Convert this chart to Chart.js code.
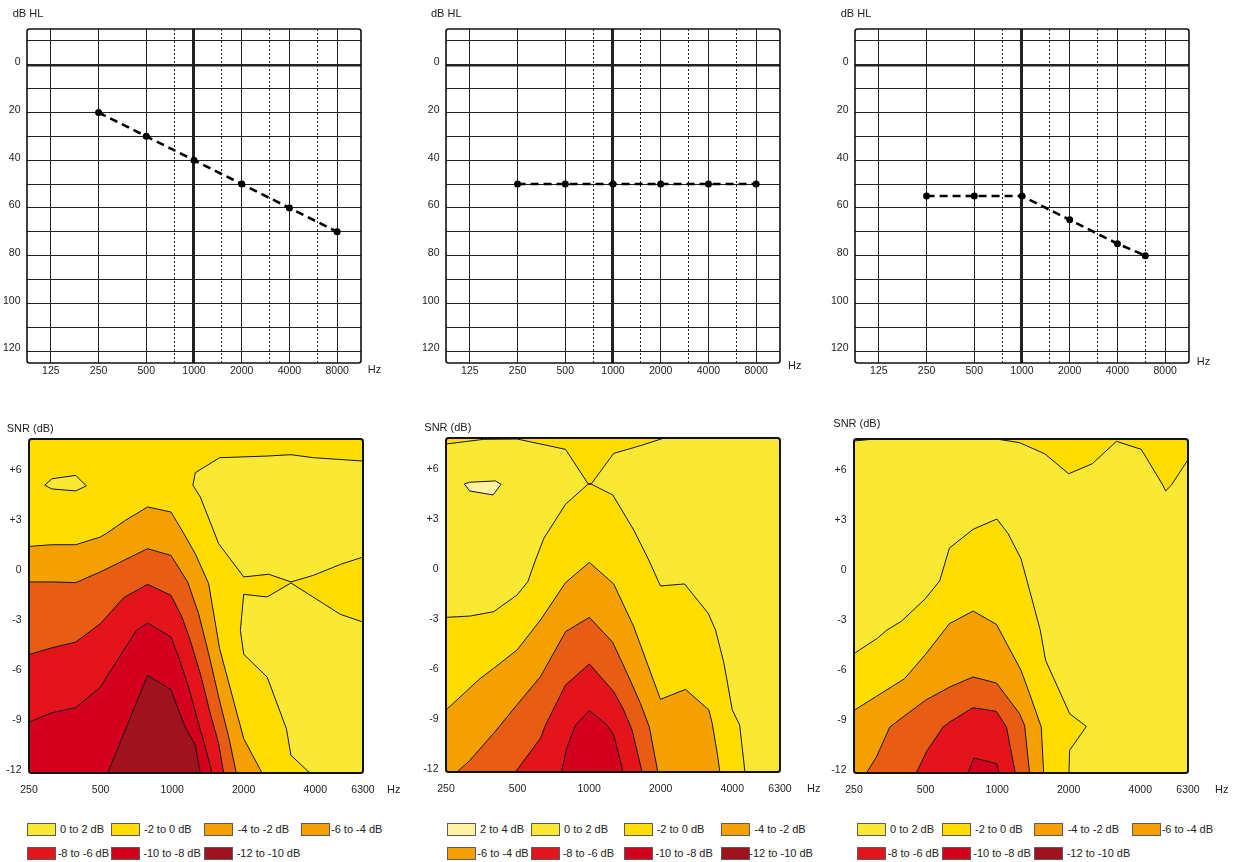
<!DOCTYPE html>
<html>
<head>
<meta charset="utf-8">
<title>Audiograms and SNR maps</title>
<script src="https://cdn.jsdelivr.net/npm/chart.js@4.4.1/dist/chart.umd.min.js"></script>
<style>
  body { margin: 0; background: #fff; width: 1235px; height: 862px; overflow: hidden; position: relative;
         font-family: "Liberation Sans", Arial, sans-serif; }
  canvas { position: absolute; }
  .sw { position: absolute; width: 29px; height: 13px; box-sizing: border-box; border: 1px solid #5c5c5c; }
  .lt { position: absolute; font-size: 11px; line-height: 13px; color: #222; white-space: nowrap; }
</style>
</head>
<body>
<script>
// ---- audiograms (dB HL per frequency) ----
const audHz = [250, 500, 1000, 2000, 4000, 8000];
const audHz3 = [250, 500, 1000, 2000, 4000, 6000];
const audLeft = [20, 30, 40, 50, 60, 70];
const audMid = [50, 50, 50, 50, 50, 50];
const audRight = [55, 55, 55, 65, 75, 80];
const audGridHz = [125, 250, 500, 750, 1000, 1500, 2000, 3000, 4000, 6000, 8000];
const audHalfHz = [750, 1500, 3000, 6000];
const audLabelHz = [125, 250, 500, 1000, 2000, 4000, 8000];
const audGridDb = [-10, 0, 10, 20, 30, 40, 50, 60, 70, 80, 90, 100, 110, 120];
const audLabelDb = [0, 20, 40, 60, 80, 100, 120];

// ---- SNR maps: x = third-octave band index (0 = 250 Hz), y = SNR in dB ----
const bandHz = [250, 315, 400, 500, 630, 800, 1000, 1250, 1600, 2000, 2500, 3150, 4000, 5000, 6300];
const mapLabelHz = [250, 500, 1000, 2000, 4000, 6300];
const snrTicks = [-12, -9, -6, -3, 0, 3, 6];
const snrLabels = ['-12', '-9', '-6', '-3', '0', '+3', '+6'];

// left map
const p1Light = [[14,6.68],[11.93,6.88],[10.98,7.06],[9.98,6.98],[7.99,6.88],[6.97,5.98],[6.87,5.23],[7.18,4.53],
  [7.95,1.73],[9.0,-0.26],[10.05,-0.10],[10.98,-0.56],[11.93,-0.16],[13.05,0.49],[14,0.93]];
const p1LightLow = [[10.98,-0.62],[13.05,-2.50],[14,-2.96],[14,-12],[11.77,-12],[10.98,-10.94],[10.79,-9.35],
  [9.98,-6.25],[9.0,-4.89],[8.86,-3.46],[9.0,-1.30],[9.98,-1.46]];
const p1Island = [[0.66,5.23],[0.96,5.62],[1.96,5.82],[2.40,5.19],[1.96,4.89],[0.96,5.01]];
const p1Below2 = [[0,1.57],[0.96,1.67],[1.96,1.67],[2.99,2.13],[3.27,2.37],[4.04,3.13],[4.97,3.93],[5.95,3.63],
  [6.41,2.53],[6.97,1.13],[7.53,-0.66],[7.99,-4.55],[9.0,-9.94],[9.77,-12],[0,-12]];
const p1Below4 = [[0,-0.56],[0.96,-0.56],[1.96,-0.60],[2.99,0.04],[3.97,0.73],[4.97,1.43],[5.95,1.03],[6.65,-0.56],
  [7.11,-2.46],[7.53,-4.85],[7.95,-7.45],[8.37,-9.84],[8.69,-12],[0,-12]];
const p1Below6 = [[0,-4.91],[0.96,-4.50],[1.96,-4.16],[2.99,-3.06],[3.97,-1.50],[4.97,-0.70],[5.95,-1.36],[6.41,-2.66],
  [6.76,-4.06],[7.18,-6.05],[7.60,-8.45],[7.95,-10.24],[8.16,-12],[0,-12]];
const p1Below8 = [[0,-8.95],[0.96,-8.39],[1.96,-8.09],[2.99,-6.85],[4.50,-3.46],[4.97,-3.02],[5.95,-3.86],[6.27,-5.05],
  [6.69,-6.85],[7.11,-9.05],[7.39,-10.44],[7.67,-12],[0,-12]];
const p1Below10 = [[3.30,-12],[4.97,-6.15],[5.95,-7.01],[6.27,-8.25],[6.55,-9.25],[6.97,-10.34],[7.18,-12]];

// middle map
const p2TopGold = [[0,8],[0,7.64],[1.58,7.92],[2.98,7.94],[5.01,7.32],[5.95,5.27],[6.10,5.27],[7.03,7.08],[8.15,7.54],
  [9.06,7.96],[9.06,8]];
const p2Gold = [[0,-2.74],[1.02,-2.66],[2.0,-2.40],[2.98,-1.40],[3.43,-0.60],[3.75,0.69],[4.10,1.99],[5.01,4.03],
  [5.95,5.23],[6.10,5.23],[6.99,4.59],[7.87,2.49],[8.50,0.69],[8.99,-0.86],[10.0,-0.74],[10.99,-2.50],[11.30,-3.50],
  [11.65,-5.49],[12.0,-8.29],[12.31,-9.19],[12.53,-12],[0,-12]];
const p2Pale = [[0.77,5.25],[0.99,4.83],[1.97,4.59],[2.31,5.23],[2.07,5.43],[0.99,5.35]];
const p2Below2 = [[0,-8.29],[1.44,-6.39],[2.0,-5.79],[2.98,-4.69],[3.96,-2.90],[5.01,-0.66],[6.01,0.55],[7.03,-0.74],
  [7.87,-3.30],[8.99,-7.65],[10.04,-7.05],[11.02,-8.29],[11.16,-9.09],[11.37,-10.88],[11.48,-12],[0,-12]];
const p2Below4 = [[0.46,-12],[0.99,-11.32],[2.0,-9.68],[2.99,-7.95],[3.96,-6.29],[5.01,-3.60],[6.01,-2.74],[6.99,-4.24],
  [7.59,-6.09],[8.15,-7.89],[8.52,-9.29],[8.88,-12]];
const p2Below6 = [[2.91,-12],[3.96,-9.98],[4.17,-9.19],[5.01,-6.79],[6.01,-5.53],[7.03,-7.19],[7.45,-8.29],[7.80,-9.49],
  [8.22,-12]];
const p2Below8 = [[4.84,-12],[5.08,-10.48],[5.43,-9.19],[6.01,-8.33],[6.71,-9.13],[7.03,-9.78],[7.43,-12]];

// right map
const p3TopGold = [[5.97,8],[6.94,7.78],[7.99,7.12],[9.0,5.92],[9.99,6.52],[11.0,7.86],[12.04,7.38],[12.95,5.23],
  [13.06,4.89],[13.30,5.23],[14,6.76],[14,8]];
const p3Corner = [[0,8],[0,7.88],[0.73,7.98],[0.73,8]];
const p3Gold = [[0,-4.85],[0.99,-3.92],[1.36,-3.46],[2.0,-2.90],[2.99,-1.56],[3.59,-0.50],[4.0,1.47],[4.99,2.59],
  [5.99,3.21],[6.46,2.33],[7.0,0.83],[7.36,-1.06],[7.81,-3.46],[8.03,-5.25],[9.04,-8.45],[9.74,-9.21],[9.04,-10.64],
  [9.01,-12],[0,-12]];
const p3Below2 = [[0,-8.25],[0.94,-7.41],[2.12,-6.35],[2.99,-4.91],[4.0,-3.06],[4.99,-2.30],[5.97,-3.10],[7.0,-5.85],
  [7.36,-7.25],[7.85,-9.25],[7.95,-12],[0,-12]];
const p3Below4 = [[0.52,-12],[0.94,-11.04],[1.50,-9.25],[2.05,-8.65],[2.99,-7.65],[4.01,-6.85],[4.99,-6.25],[5.97,-6.61],
  [6.94,-8.45],[7.15,-9.15],[7.36,-12]];
const p3Below6 = [[2.61,-12],[3.03,-10.74],[3.73,-9.25],[4.01,-8.95],[4.99,-8.09],[5.97,-8.31],[6.39,-9.25],[6.76,-12]];
const p3Below8 = [[4.78,-12],[5.02,-11.10],[5.99,-11.44],[6.08,-12]];

// legends
const legend1 = ['0 to 2 dB', '-2 to 0 dB', '-4 to -2 dB', '-6 to -4 dB', '-8 to -6 dB', '-10 to -8 dB', '-12 to -10 dB'];
const legend2 = ['2 to 4 dB', '0 to 2 dB', '-2 to 0 dB', '-4 to -2 dB', '-6 to -4 dB', '-8 to -6 dB', '-10 to -8 dB', '-12 to -10 dB'];
const legend3 = ['0 to 2 dB', '-2 to 0 dB', '-4 to -2 dB', '-6 to -4 dB', '-8 to -6 dB', '-10 to -8 dB', '-12 to -10 dB'];

// ---- styling / layout ----
const PALE = '#FEF3A2', LIGHT = '#F9E834', GOLD = '#FFDD00', ORANGE = '#F4A000', DORANGE = '#E85C13',
      RED = '#E3141C', CRIMSON = '#D3001E', DRED = '#A0131E';
const INK = '#222';
const FONT = { family: '"Liberation Sans", Arial, sans-serif', size: 10.5 };
const SIZE = 334, PL = 40, PT = 40, PR = 50, PB = 30;

function canvasAt(left, top) {
  const c = document.createElement('canvas');
  c.width = PL + SIZE + PR;
  c.height = PT + SIZE + PB;
  c.style.left = (left - PL) + 'px';
  c.style.top = (top - PT) + 'px';
  document.body.appendChild(c);
  return c;
}

// area background, rounded frame and axis captions
const decor = {
  id: 'decor',
  beforeDatasetsDraw(chart, args, o) {
    if (!o.bg) return;
    const a = chart.chartArea, ctx = chart.ctx;
    ctx.save();
    ctx.fillStyle = o.bg;
    ctx.fillRect(a.left, a.top, a.width, a.height);
    ctx.restore();
  },
  afterDraw(chart, args, o) {
    const a = chart.chartArea, ctx = chart.ctx;
    ctx.save();
    ctx.lineWidth = o.frame;
    ctx.strokeStyle = '#111';
    ctx.beginPath();
    ctx.roundRect(a.left, a.top, a.width, a.height, 2.5);
    ctx.stroke();
    ctx.font = '11px "Liberation Sans", Arial, sans-serif';
    ctx.fillStyle = INK;
    ctx.textBaseline = 'middle';
    ctx.fillText(o.title, a.left + o.titleAt[0], a.top + o.titleAt[1]);
    ctx.fillText('Hz', a.right + o.hzAt[0], a.bottom + o.hzAt[1]);
    ctx.restore();
  }
};
Chart.register(decor);

function audiogram(left, hz, db, titleAt, hzAt) {
  new Chart(canvasAt(left, 29), {
    type: 'line',
    data: {
      datasets: [{
        data: hz.map((f, i) => ({ x: f, y: db[i] })),
        borderColor: '#000', borderWidth: 2.6, borderDash: [8, 5],
        pointRadius: 3.5, pointBackgroundColor: '#000', pointBorderWidth: 0,
        tension: 0, fill: false
      }]
    },
    options: {
      responsive: false, animation: false, events: [],
      layout: { padding: { left: 0, top: PT, right: PR, bottom: 0 } },
      plugins: {
        legend: { display: false }, tooltip: { enabled: false },
        decor: { frame: 1.6, title: 'dB HL', titleAt, hzAt }
      },
      scales: {
        x: {
          type: 'logarithmic', bounds: 'data', min: 125 / Math.SQRT2, max: 8000 * Math.SQRT2,
          afterBuildTicks: s => { s.ticks = audGridHz.map(v => ({ value: v })); },
          afterFit: s => { s.height = PB; },
          ticks: { autoSkip: false, maxRotation: 0, padding: 1.5, font: FONT, color: INK,
                   callback: v => audLabelHz.includes(v) ? String(v) : '' },
          grid: { color: '#222', drawTicks: false,
                  lineWidth: c => c.tick && c.tick.value === 1000 ? 3 : 1 },
          border: { display: false,
                    dash: c => c.tick && audHalfHz.includes(c.tick.value) ? [2, 2] : [] }
        },
        y: {
          type: 'linear', bounds: 'data', reverse: true, min: -15, max: 125,
          afterBuildTicks: s => { s.ticks = audGridDb.map(v => ({ value: v })); },
          afterFit: s => { s.width = PL; },
          ticks: { autoSkip: false, padding: 6.5, labelOffset: -2.5, font: FONT, color: INK,
                   callback: v => audLabelDb.includes(v) ? String(v) : '' },
          grid: { color: '#222', drawTicks: false,
                  lineWidth: c => c.tick && c.tick.value === 0 ? 2.5 : 1 },
          border: { display: false }
        }
      }
    }
  });
}

function snrMap(left, top, bg, layers, titleAt, hzAt) {
  const n = layers.length;
  new Chart(canvasAt(left, top), {
    type: 'line',
    data: {
      datasets: layers.map(([pts, color], i) => ({
        data: pts.concat([pts[0]]).map(([x, y]) => ({ x, y })),
        fill: 'shape', backgroundColor: color, borderColor: '#141414', borderWidth: 1,
        borderJoinStyle: 'round', pointRadius: 0, tension: 0, order: n - i
      }))
    },
    options: {
      responsive: false, animation: false, events: [],
      layout: { padding: { left: 0, top: PT, right: PR, bottom: 0 } },
      plugins: {
        legend: { display: false }, tooltip: { enabled: false },
        decor: { bg, frame: 2, title: 'SNR (dB)', titleAt, hzAt }
      },
      scales: {
        x: {
          type: 'linear', bounds: 'data', min: 0, max: bandHz.length - 1,
          afterBuildTicks: s => { s.ticks = mapLabelHz.map(f => ({ value: bandHz.indexOf(f) })); },
          afterFit: s => { s.height = PB; },
          ticks: { autoSkip: false, maxRotation: 0, padding: 11, font: FONT, color: INK,
                   callback: v => String(bandHz[v]) },
          grid: { display: false, drawTicks: false }, border: { display: false }
        },
        y: {
          type: 'linear', bounds: 'data', min: -12, max: 8,
          afterBuildTicks: s => { s.ticks = snrTicks.map(v => ({ value: v })); },
          afterFit: s => { s.width = PL; },
          ticks: { autoSkip: false, padding: 7.5, labelOffset: -2.5, font: FONT, color: INK,
                   callback: v => snrLabels[snrTicks.indexOf(v)] },
          grid: { display: false, drawTicks: false }, border: { display: false }
        }
      }
    }
  });
}

function legend(labels, colors, swX, textRow1, textRow2) {
  const rowTop = [822.7, 846.7];
  labels.forEach((t, i) => {
    const r = i < 4 ? 0 : 1, c = i % 4;
    const sw = document.createElement('div');
    sw.className = 'sw';
    sw.style.left = swX[c] + 'px';
    sw.style.top = rowTop[r] + 'px';
    sw.style.background = colors[i];
    document.body.appendChild(sw);
    const tx = document.createElement('div');
    tx.className = 'lt';
    tx.style.left = (r ? textRow2 : textRow1)[c] + 'px';
    tx.style.top = rowTop[r] + 'px';
    tx.textContent = t;
    document.body.appendChild(tx);
  });
}

audiogram(27, audHz, audLeft, [-14.3, -14.7], [6.7, 7]);
audiogram(446, audHz, audMid, [-15, -15], [8, 3]);
audiogram(855, audHz3, audRight, [-14.3, -14.7], [7.7, -1.3]);

snrMap(29, 439, GOLD, [[p1Light, LIGHT], [p1LightLow, LIGHT], [p1Island, LIGHT], [p1Below2, ORANGE],
  [p1Below4, DORANGE], [p1Below6, RED], [p1Below8, CRIMSON], [p1Below10, DRED]], [-22.3, -9.7], [24, 17]);
snrMap(446, 438, LIGHT, [[p2TopGold, GOLD], [p2Gold, GOLD], [p2Pale, PALE], [p2Below2, ORANGE],
  [p2Below4, DORANGE], [p2Below6, RED], [p2Below8, CRIMSON]], [-21.7, -9.7], [27, 17]);
snrMap(854, 439, LIGHT, [[p3TopGold, GOLD], [p3Corner, GOLD], [p3Gold, GOLD], [p3Below2, ORANGE],
  [p3Below4, DORANGE], [p3Below6, RED], [p3Below8, CRIMSON]], [-20.7, -14.7], [27, 17]);

legend(legend1, [LIGHT, GOLD, ORANGE, ORANGE, RED, CRIMSON, DRED],
  [26.7, 111.3, 204.3, 301], [60, 144, 237.7, 331], [57.7, 143.3, 236.7]);
legend(legend2, [PALE, LIGHT, GOLD, ORANGE, ORANGE, RED, CRIMSON, DRED],
  [446.7, 531.3, 624.3, 721], [480, 564, 656.7, 754.3], [477.3, 562.7, 655.3, 749.3]);
legend(legend3, [LIGHT, GOLD, ORANGE, ORANGE, RED, CRIMSON, DRED],
  [857.3, 942, 1034.3, 1131.7], [890, 975, 1067.7, 1161.7], [887.7, 973.3, 1066.7]);
</script>
</body>
</html>
